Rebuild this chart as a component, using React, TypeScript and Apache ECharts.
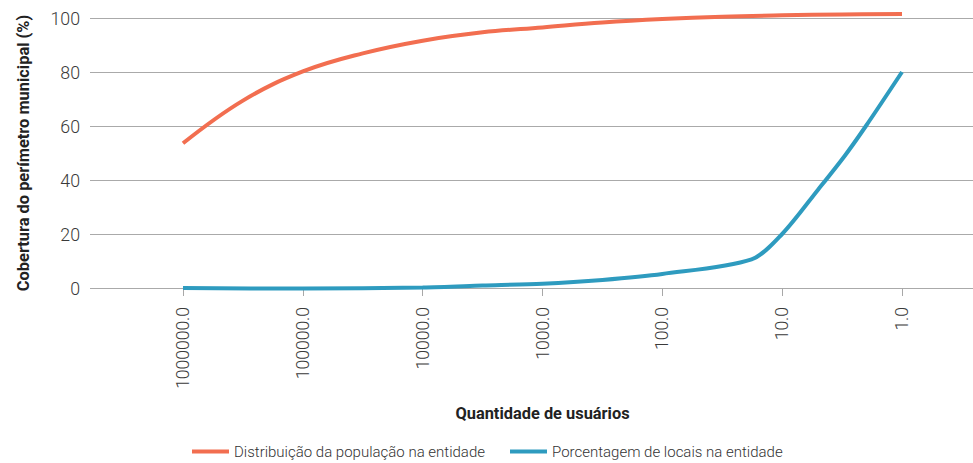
import React, { useEffect, useRef } from "react";
import * as echarts from "echarts";

// Quantidade de usuários (x, log scale) and coverage values (%)
const populationUsers = [1000000, 316228, 100000, 31623, 10000, 3162, 1000, 316, 100, 31.6, 10, 3.16, 1];
const populationValues = [53.6, 69.4, 80.2, 86.9, 91.6, 94.7, 96.5, 98.3, 99.6, 100.5, 101.0, 101.3, 101.5];

const localUsers = [1000000, 100000, 10000, 3162, 1000, 316, 100, 18, 10, 5, 3, 2, 1];
const localValues = [0, -0.2, 0.2, 0.9, 1.6, 3.0, 5.2, 10.6, 20, 36.5, 49, 60, 80];

const yTicks = [0, 20, 40, 60, 80, 100];
const seriesNames = ["Distribuição da população na entidade", "Porcentagem de locais na entidade"];
const xTitle = "Quantidade de usuários";
const yTitle = "Cobertura do perímetro municipal (%)";

const FONT = "Roboto, 'Noto Sans', sans-serif";
const ORANGE = "#F26E50";
const BLUE = "#2E9BBF";

export default function App() {
  const ref = useRef<HTMLDivElement>(null);
  useEffect(() => {
    if (!ref.current) return;
    const chart = echarts.init(ref.current, null, { renderer: "svg" });
    const option: any = {
      animation: false,
      textStyle: { fontFamily: FONT },
      grid: [
        { left: 90, right: 0, top: 18, bottom: 175, outerBoundsMode: "none", containLabel: false },
        { left: 183, right: 71, top: 18, bottom: 175, outerBoundsMode: "none", containLabel: false },
      ],
      legend: {
        left: 192,
        top: 444,
        padding: 0,
        itemWidth: 37,
        itemHeight: 4,
        itemGap: 25,
        icon: "rect",
        textStyle: { fontFamily: FONT, fontSize: 15, fontWeight: 300, color: "#333" },
        data: seriesNames,
      },
      xAxis: [
        { type: "value", gridIndex: 0, show: false, min: 0, max: 1 },
        {
          type: "log",
          gridIndex: 1,
          logBase: 10,
          min: 1,
          max: 1000000,
          inverse: true,
          splitNumber: 6,
          axisLine: { show: false },
          axisTick: { show: true, length: 8, lineStyle: { color: "#a8a8a8", width: 1 } },
          splitLine: { show: false },
          minorTick: { show: false },
          axisLabel: {
            rotate: 90,
            margin: 19,
            color: "#3a3a3a",
            fontFamily: FONT,
            fontSize: 17.5,
            fontWeight: 300,
            formatter: (v: number) => Number(v).toFixed(1),
          },
          name: xTitle,
          nameLocation: "middle",
          nameGap: 117,
          nameMoveOverlap: false,
          nameTextStyle: { fontFamily: FONT, fontSize: 16.4, fontWeight: "bold", color: "#222" },
        },
      ],
      yAxis: [
        {
          type: "value",
          gridIndex: 0,
          min: yTicks[0],
          max: yTicks[yTicks.length - 1],
          interval: 20,
          axisLine: { show: false },
          axisTick: { show: false },
          splitLine: { show: true, lineStyle: { color: "#aaaaaa", width: 1 } },
          axisLabel: { margin: 10, color: "#3a3a3a", fontFamily: FONT, fontSize: 17.8, fontWeight: 300 },
          name: yTitle,
          nameLocation: "middle",
          nameGap: 59,
          nameMoveOverlap: false,
          nameTextStyle: { fontFamily: FONT, fontSize: 16.4, fontWeight: "bold", color: "#222" },
        },
        { type: "value", gridIndex: 1, min: 0, max: 100, show: false },
      ],
      series: [
        {
          name: seriesNames[0],
          type: "line",
          xAxisIndex: 1,
          yAxisIndex: 1,
          data: populationUsers.map((u, i) => [u, populationValues[i]]),
          smooth: 0.4,
          showSymbol: false,
          symbol: "none",
          clip: false,
          lineStyle: { color: ORANGE, width: 4 },
          itemStyle: { color: ORANGE },
        },
        {
          name: seriesNames[1],
          type: "line",
          xAxisIndex: 1,
          yAxisIndex: 1,
          data: localUsers.map((u, i) => [u, localValues[i]]),
          smooth: 0.3,
          showSymbol: false,
          symbol: "none",
          clip: false,
          lineStyle: { color: BLUE, width: 4 },
          itemStyle: { color: BLUE },
        },
      ],
    };
    chart.setOption(option);
    return () => chart.dispose();
  }, []);
  return (
    <div
      ref={ref}
      style={{ position: "absolute", left: 0, top: 0, width: 973, height: 463, background: "#fff" }}
    />
  );
}
